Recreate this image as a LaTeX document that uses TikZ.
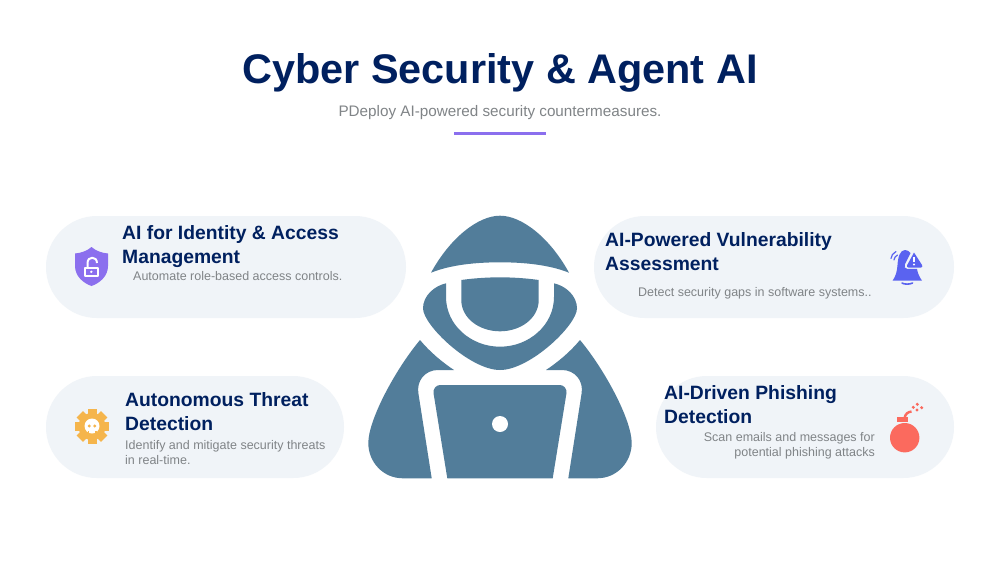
\documentclass[tikz,border=0pt]{standalone}
\usepackage{fontspec}
\setmainfont{Liberation Sans}
\definecolor{navy}{HTML}{00205F}
\definecolor{greytext}{HTML}{808487}
\definecolor{pill}{HTML}{F0F4F8}
\definecolor{hood}{HTML}{527D9A}
\definecolor{violet}{HTML}{8B6FEE}
\definecolor{amber}{HTML}{F5B54C}
\definecolor{bellblue}{HTML}{5A63F0}
\definecolor{coral}{HTML}{FB6A5E}
\tikzset{
	pillbox/.style={fill=pill, rounded corners=50.9pt, inner sep=0pt, minimum height=102pt},
	headline/.style={anchor=base west, inner sep=0pt, text=navy, font=\fontsize{19.3}{24}\selectfont\bfseries},
	blurb/.style={anchor=base west, inner sep=0pt, text=greytext, font=\fontsize{12.5}{15}\selectfont},
	blurbr/.style={blurb, anchor=base east},
	knock/.style={draw=white, line width=2pt, line cap=butt, line join=round}
}
\begin{document}
\begin{tikzpicture}[x=1pt, y=-1pt]
	\useasboundingbox (0, 0) rectangle (1000, 563);
	\fill[white] (0, 0) rectangle (1000, 563);

	% title
	\node[anchor=base, inner sep=0pt, text=navy, font=\fontsize{41.4}{50}\selectfont\bfseries] (title) at (500, 83){Cyber Security \& Agent AI};
	\node[anchor=base, inner sep=0pt, text=greytext, font=\fontsize{15.25}{20}\selectfont] (subtitle) at (500, 116.5){PDeploy AI-powered security countermeasures.};
	\fill[violet] (454, 131.5) rectangle (546, 134.5);

	% pills
	\node[pillbox, minimum width=360pt] (idpill) at (226, 267){};
	\node[pillbox, minimum width=360pt] (vulnpill) at (774, 267){};
	\node[pillbox, minimum width=298pt] (threatpill) at (195, 427){};
	\node[pillbox, minimum width=298pt] (phishpill) at (805, 427){};

	% hooded figure
	\begin{scope}[hood]
		\fill (431, 272.7) .. controls (450, 238) and (478, 215.7) .. (500, 215.7)
			.. controls (522, 215.7) and (550, 238) .. (569, 272.7)
			.. controls (550, 265) and (525, 262.3) .. (500, 262.3)
			.. controls (475, 262.3) and (450, 265) .. (431, 272.7) -- cycle;
		\fill (461.3, 280) .. controls (475, 278) and (490, 277.3) .. (500, 277.3)
			.. controls (510, 277.3) and (525, 278) .. (538.7, 280) -- (538.7, 300)
			.. controls (538.7, 318) and (521, 331.3) .. (500, 331.3)
			.. controls (479, 331.3) and (461.3, 318) .. (461.3, 300) -- cycle;
		\fill (446, 283.3) -- (446, 297) .. controls (446, 325) and (471, 346.7) .. (500, 346.7)
			.. controls (529, 346.7) and (554, 325) .. (554, 297) -- (554, 283.3)
			.. controls (566, 286) and (577, 296) .. (577, 308.3)
			.. controls (577, 325) and (530, 370) .. (500, 370)
			.. controls (470, 370) and (423, 325) .. (423, 308.3)
			.. controls (423, 296) and (434, 286) .. (446, 283.3) -- cycle;
		\fill (420, 340) .. controls (430, 352) and (442, 362) .. (454, 370) -- (438, 370)
			.. controls (425, 370) and (416, 381) .. (418.5, 394) -- (431.7, 478.3) -- (403, 478.3)
			.. controls (383, 478.3) and (368.3, 462) .. (368.3, 443)
			.. controls (368.3, 420) and (395, 370) .. (420, 340) -- cycle;
		\fill (580, 340) .. controls (570, 352) and (558, 362) .. (546, 370) -- (562, 370)
			.. controls (575, 370) and (584, 381) .. (581.5, 394) -- (568.3, 478.3) -- (597, 478.3)
			.. controls (617, 478.3) and (631.7, 462) .. (631.7, 443)
			.. controls (631.7, 420) and (605, 370) .. (580, 340) -- cycle;
		\fill (440, 385) -- (560, 385) .. controls (564, 385) and (567, 389) .. (566.5, 393)
			-- (552.7, 478.3) -- (447.3, 478.3) -- (433.5, 393)
			.. controls (433, 389) and (436, 385) .. (440, 385) -- cycle;
	\end{scope}
	\fill[white] (500, 424) circle (8);

	% shield icon
	\fill[violet] (91.5, 247) .. controls (96, 251) and (102, 253) .. (108, 253.5)
		-- (108, 266) .. controls (108, 276) and (100, 283) .. (91.5, 286)
		.. controls (83, 283) and (75, 276) .. (75, 266) -- (75, 253.5)
		.. controls (81, 253) and (87, 251) .. (91.5, 247) -- cycle;
	\draw[knock] (84.5, 267.5) rectangle (98, 276);
	\draw[knock] (87.5, 267.5) -- (87.5, 263) .. controls (87.5, 256) and (97, 256) .. (97, 263);
	\fill[white] (91.3, 271.8) circle (1.3);

	% gear icon
	\foreach \ang in {0, 45, ..., 315}{
		\fill[amber, rotate around={\ang:(92, 426.5)}] (87.5, 409.3) rectangle (96.5, 420);
	}
	\fill[amber] (92, 426.5) circle (13.5);
	\fill[white] (92, 426) circle (7.5);
	\fill[amber] (89.3, 426) circle (1.6);
	\fill[amber] (94.7, 426) circle (1.6);
	\fill[amber] (87.5, 431) rectangle (88.7, 433.5);
	\fill[amber] (95.3, 431) rectangle (96.5, 433.5);

	% bell icon
	\fill[bellblue] (905, 250) .. controls (907, 250) and (909, 251) .. (910.5, 253)
		-- (905, 264) .. controls (904, 266.5) and (904.5, 268.8) .. (907, 268.8)
		-- (917, 268.8) .. controls (917.5, 273) and (919.5, 277) .. (922, 280.7)
		-- (892.5, 280.7) .. controls (896, 276) and (897, 271) .. (897.5, 265)
		.. controls (898, 257) and (900, 250) .. (905, 250) -- cycle;
	\draw[bellblue, line width=1.6pt, line cap=round] (902, 283) .. controls (904, 284.5) and (910, 284.5) .. (912.5, 283);
	\draw[bellblue, line width=1.2pt, line cap=round] (891, 258.5) .. controls (891, 256) and (893, 253) .. (896, 251.5);
	\draw[bellblue, line width=1.2pt, line cap=round] (894, 260) .. controls (894, 258) and (895.5, 256) .. (897.5, 255);
	\fill[bellblue] (914, 252.5) -- (922, 265) .. controls (923, 266.5) and (922, 267.5) .. (921, 267.5)
		-- (908.5, 267.5) .. controls (907, 267.5) and (906.5, 266.5) .. (907.2, 265) -- cycle;
	\fill[white] (912.9, 256.5) rectangle (915.1, 262);
	\fill[white] (914, 264.5) circle (1.2);

	% bomb icon
	\fill[coral] (904.7, 437.7) circle (14.7);
	\fill[coral] (897, 416.8) rectangle (908, 422);
	\draw[coral, line width=2.4pt] (904.5, 418) .. controls (905.5, 413.5) and (908, 412) .. (911.5, 411.5);
	\foreach \xx/\yy in {917.3/404.3, 913.3/407.3, 921.7/407.7, 917/410}{
		\fill[coral] (\xx, \yy) circle (1.7);
	}

	% texts
	\node[headline] (idheadA) at (122, 239){AI for Identity \& Access};
	\node[headline] (idheadB) at (122, 263){Management};
	\node[blurb] (idtext) at (133, 280){Automate role-based access controls.};

	\node[headline] (vulnheadA) at (605, 246){AI-Powered Vulnerability};
	\node[headline] (vulnheadB) at (605, 270){Assessment};
	\node[blurb] (vulntext) at (638, 296){Detect security gaps in software systems..};

	\node[headline] (threatheadA) at (125, 406){Autonomous Threat};
	\node[headline] (threatheadB) at (125, 430){Detection};
	\node[blurb] (threattextA) at (125, 449){Identify and mitigate security threats};
	\node[blurb] (threattextB) at (125, 464){in real-time.};

	\node[headline] (phishheadA) at (664, 399){AI-Driven Phishing};
	\node[headline] (phishheadB) at (664, 423){Detection};
	\node[blurbr] (phishtextA) at (875, 441){Scan emails and messages for};
	\node[blurbr] (phishtextB) at (875, 456){potential phishing attacks};
\end{tikzpicture}
\end{document}
